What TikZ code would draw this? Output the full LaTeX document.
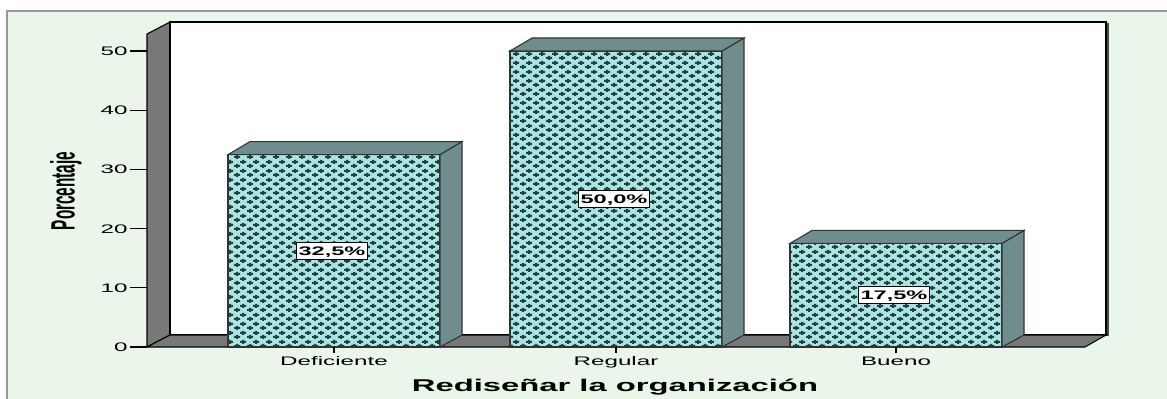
\documentclass[tikz,border=0pt]{standalone}
\usepackage{fontspec}
\setmainfont{Liberation Sans}
\usepackage{tikz}
\usetikzlibrary{patterns}
\definecolor{PanelGreen}{HTML}{E9F6E9}
\definecolor{WallGray}{HTML}{787878}
\definecolor{BarCyan}{HTML}{A9E5E5}
\definecolor{BarSide}{HTML}{6F8D8D}
\definecolor{BarDots}{HTML}{263F3F}
\pgfdeclarepatternformonly{BarMesh}{\pgfqpoint{0pt}{0pt}}{\pgfqpoint{9.75pt}{6.4pt}}{\pgfqpoint{9.75pt}{6.4pt}}{
    \pgfpathrectangle{\pgfqpoint{0pt}{0.9pt}}{\pgfqpoint{5pt}{1.5pt}}
    \pgfpathrectangle{\pgfqpoint{1.7pt}{0.1pt}}{\pgfqpoint{1.6pt}{3.1pt}}
    \pgfpathrectangle{\pgfqpoint{4.875pt}{4.1pt}}{\pgfqpoint{4.875pt}{1.5pt}}
    \pgfpathrectangle{\pgfqpoint{6.575pt}{3.3pt}}{\pgfqpoint{1.6pt}{3.1pt}}
    \pgfusepath{fill}
}
\tikzset{
    barfront/.style={preaction={fill=BarCyan}, pattern=BarMesh, pattern color=BarDots, draw=black!80, line width=0.8pt},
    barshade/.style={fill=BarSide, draw=black!80, line width=0.8pt},
    ticklabel/.style={font=\fontsize{9.3}{11}\selectfont, xscale=1.95, inner sep=0pt},
    pctbox/.style={draw=black, fill=white, line width=0.7pt, font=\bfseries\fontsize{9.3}{11}\selectfont, xscale=1.9, inner xsep=1pt, inner ysep=2.8pt, text height=6.7pt, text depth=0.3pt},
}

\begin{document}
\begin{tikzpicture}[x=0.75pt, y=-0.75pt]
                    \useasboundingbox (0,0) rectangle (1167,399);
%                    Panel and walls
                    \filldraw[fill=PanelGreen, draw=gray!80, line width=1.2pt] (7,11) rectangle (1190,420);
                    \filldraw[fill=WallGray, draw=black, line width=0.8pt] (147,347) -- (147,34) -- (170,22) -- (170,335) -- cycle;
                    \filldraw[fill=white, draw=black, line width=0.8pt] (170,22) rectangle (1106,335);
                    \draw[black!70, line width=1.5pt] (1107.5,23) -- (1107.5,336);
                    \filldraw[fill=WallGray, draw=black, line width=0.8pt] (147,347) -- (170,335) -- (1106,335) -- (1085,347) -- cycle;

                    \foreach \v in {0,10,...,50} {
                        \draw[line width=0.8pt] (130,{347-5.92*\v}) -- (147,{347-5.92*\v});
                        \node[ticklabel, anchor=base east] (tick\v) at (128,{351.5-5.92*\v}) {\v};
                    }
%                    Bars
                    \foreach \x/\v/\cat/\pct in {228/32.5/Deficiente/{32,5\%},510/50/Regular/{50,0\%},790/17.5/Bueno/{17,5\%}} {
                        \pgfmathsetmacro{\bartop}{347-5.92*\v}
                        \path[barfront] (\x,347) rectangle ({\x+212},\bartop);
                        \path[barshade] ({\x+212},347) -- ({\x+234},335) -- ({\x+234},{\bartop-13}) -- ({\x+212},\bartop) -- cycle;
                        \path[barshade] (\x,\bartop) -- ({\x+22},{\bartop-13}) -- ({\x+234},{\bartop-13}) -- ({\x+212},\bartop) -- cycle;
                        \node[pctbox] (pct\cat) at ({\x+104},{347-2.96*\v}) {\pct};
                        \draw[line width=0.8pt] ({\x+106},347) -- ({\x+106},353);
                        \node[ticklabel, anchor=base] (cat\cat) at ({\x+106},365) {\cat};
                    }

                    \node[font=\bfseries\fontsize{12.8}{14}\selectfont, xscale=1.92, anchor=base, inner sep=0pt] (title) at (615,391.5) {Rediseñar la organización};
                    \node[xscale=2.2, inner sep=0pt] (ylabel) at (66,191) {\rotatebox{90}{\bfseries\fontsize{11.5}{13}\selectfont Porcentaje}};

                \end{tikzpicture}
\end{document}
